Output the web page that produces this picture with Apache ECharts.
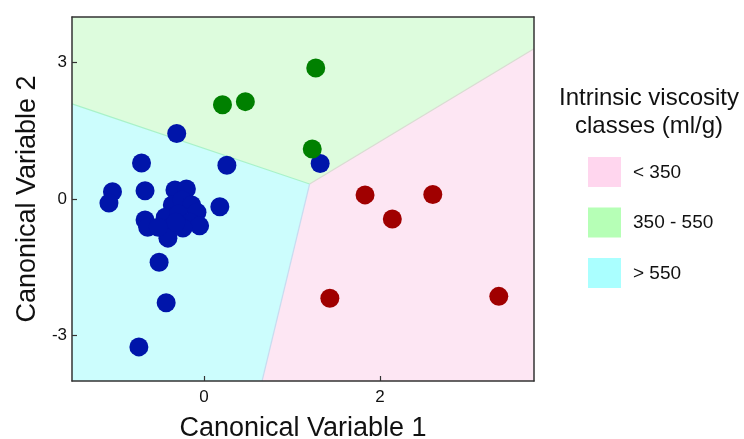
<!DOCTYPE html>
<html>
<head>
<meta charset="utf-8">
<script src="https://cdn.jsdelivr.net/npm/echarts@6/dist/echarts.min.js"></script>
<style>
  html, body { margin: 0; padding: 0; background: #fff; }
  #chart { width: 744px; height: 439px; }
</style>
</head>
<body>
<div id="chart"></div>
<script>
// Axis extents and tick positions
const xExtent = [-1.5, 3.75];
const yExtent = [-4, 4];
const xTicks = [0, 2];
const yTicks = [-3, 0, 3];

// Canonical scores per viscosity class [CV1, CV2]
const lowClass = [[1.83, 0.09], [2.60, 0.10], [2.14, -0.44], [1.43, -2.18], [3.35, -2.14]];
const midClass = [[0.21, 2.07], [0.47, 2.14], [1.27, 2.88], [1.23, 1.10]];
const highClass = [
  [-0.31, 1.44], [-0.71, 0.79], [0.26, 0.74], [1.32, 0.78],
  [-1.04, 0.16], [-1.08, -0.09], [-0.67, 0.18], [0.18, -0.17],
  [-0.67, -0.46], [-0.64, -0.62], [-0.51, -1.39], [-0.43, -2.28], [-0.74, -3.25],
  [-0.33, 0.20], [-0.20, 0.22], [-0.36, -0.13], [-0.25, -0.02], [-0.14, -0.13],
  [-0.08, -0.29], [-0.44, -0.40], [-0.29, -0.33], [-0.16, -0.51], [-0.05, -0.59],
  [-0.39, -0.64], [-0.41, -0.86], [-0.24, -0.64], [-0.32, -0.51], [-0.52, -0.62]
];

// Decision-region boundaries
const junction = [1.2, 0.33];
const leftEdge = [-1.5, 2.09];
const rightEdge = [3.75, 3.3];
const bottomEdge = [0.66, -4];

const lowRegion = [junction, rightEdge, [3.75, -4], bottomEdge];
const midRegion = [leftEdge, junction, rightEdge, [3.75, 4], [-1.5, 4]];
const highRegion = [leftEdge, junction, bottomEdge, [-1.5, -4]];

const legendTitle = ['Intrinsic viscosity', 'classes (ml/g)'];
const legendNames = ['< 350', '350 - 550', '> 550'];
const legendColors = ['#ffd6ee', '#b6ffb6', '#aaffff'];

const font = '"Liberation Sans", Arial, sans-serif';

function regionSeries(verts, fill) {
  return {
    type: 'custom',
    z: 1,
    silent: true,
    data: [0],
    renderItem: function (params, api) {
      return {
        type: 'polygon',
        shape: { points: verts.map(v => api.coord(v)) },
        style: { fill: fill, stroke: null }
      };
    }
  };
}

function boundarySeries(pts, color) {
  return {
    type: 'custom',
    z: 1,
    silent: true,
    data: [0],
    renderItem: function (params, api) {
      return {
        type: 'polyline',
        shape: { points: pts.map(v => api.coord(v)) },
        style: { stroke: color, lineWidth: 1.2, fill: null }
      };
    }
  };
}

function pointSeries(data, color) {
  return {
    type: 'scatter',
    z: 3,
    data: data,
    symbol: 'circle',
    symbolSize: 19,
    itemStyle: { color: color, opacity: 1 },
    silent: true
  };
}

const chart = echarts.init(document.getElementById('chart'), null, { renderer: 'canvas' });

const legendGraphics = legendTitle.map((line, i) => ({
  type: 'text', x: 649, y: 98 + i * 28.5,
  style: { text: line, font: '24px ' + font, fill: '#111', align: 'center', verticalAlign: 'middle' }
}));
legendNames.forEach((name, i) => {
  const y = 157 + i * 50.5;
  legendGraphics.push({ type: 'rect', x: 588, y: y, shape: { width: 33, height: 30 }, style: { fill: legendColors[i] } });
  legendGraphics.push({ type: 'text', x: 633, y: y + 15.5, style: { text: name, font: '19px ' + font, fill: '#111', verticalAlign: 'middle' } });
});

chart.setOption({
  animation: false,
  backgroundColor: '#fff',
  grid: { left: 72, right: 210, top: 17, bottom: 58, show: false, outerBoundsMode: 'none', containLabel: false },
  xAxis: [{
    type: 'value', min: xExtent[0], max: xExtent[1], z: 10,
    name: 'Canonical Variable 1', nameLocation: 'middle', nameGap: 34,
    nameTextStyle: { fontSize: 27, color: '#111', fontFamily: font },
    axisLine: { show: true, onZero: false, lineStyle: { color: '#333', width: 1.5 } },
    axisTick: { show: true, inside: true, length: 5, customValues: xTicks, lineStyle: { color: '#333', width: 1.2 } },
    axisLabel: { customValues: xTicks, fontSize: 17, color: '#111', fontFamily: font, margin: 8 },
    splitLine: { show: false }
  }, {
    type: 'value', position: 'top', min: xExtent[0], max: xExtent[1], z: 10,
    axisLine: { show: true, onZero: false, lineStyle: { color: '#333', width: 1.5 } },
    axisTick: { show: false }, axisLabel: { show: false }, splitLine: { show: false }
  }],
  yAxis: [{
    type: 'value', min: yExtent[0], max: yExtent[1], z: 10,
    name: 'Canonical Variable 2', nameLocation: 'middle', nameGap: 30, nameRotate: 90,
    nameTextStyle: { fontSize: 27, color: '#111', fontFamily: font },
    axisLine: { show: true, onZero: false, lineStyle: { color: '#333', width: 1.5 } },
    axisTick: { show: true, inside: true, length: 5, customValues: yTicks, lineStyle: { color: '#333', width: 1.2 } },
    axisLabel: { customValues: yTicks, fontSize: 17, color: '#111', fontFamily: font, margin: 5 },
    splitLine: { show: false }
  }, {
    type: 'value', position: 'right', min: yExtent[0], max: yExtent[1], z: 10,
    axisLine: { show: true, onZero: false, lineStyle: { color: '#333', width: 1.5 } },
    axisTick: { show: false }, axisLabel: { show: false }, splitLine: { show: false }
  }],
  series: [
    regionSeries(lowRegion, '#fde6f3'),
    regionSeries(midRegion, '#ddfcdd'),
    regionSeries(highRegion, '#ccfdfd'),
    boundarySeries([leftEdge, junction], '#a8f2c8'),
    boundarySeries([junction, rightEdge], '#d9dcd2'),
    boundarySeries([junction, bottomEdge], '#c8dcf0'),
    pointSeries(highClass, '#0015aa'),
    pointSeries(midClass, '#008000'),
    pointSeries(lowClass, '#a00000')
  ],
  graphic: legendGraphics
});
</script>
</body>
</html>
